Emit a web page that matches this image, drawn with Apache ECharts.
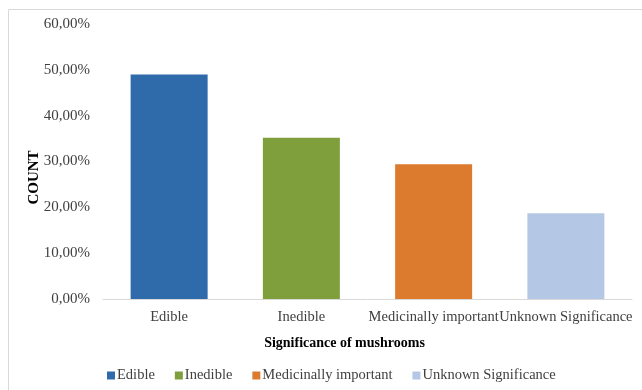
<!DOCTYPE html>
<html>
<head>
    <meta charset="utf-8">
    <title>Significance of mushrooms</title>
    <script src="https://cdn.jsdelivr.net/npm/echarts@6/dist/echarts.min.js"></script>
    <style>
        html, body { margin: 0; padding: 0; background: #fff; }
        #chart { width: 642px; height: 390px; }
    </style>
</head>
<body>
<div id="chart"></div>
<script type="text/javascript">
    // 数据
    var categories = ['Edible', 'Inedible', 'Medicinally important', 'Unknown Significance'];
    var values = [49.0, 35.2, 29.4, 18.7];
    var colors = ['#2f6aab', '#7f9f3c', '#dc7b2e', '#b4c8e6'];
    var yTicks = [0, 10, 20, 30, 40, 50, 60];

    var serif = '"Liberation Serif", "DejaVu Serif", serif';

    // 每个类别一个系列, 这样图例有四项
    var series = categories.map(function (name, i) {
        var d = categories.map(function (c, j) { return j === i ? values[i] : '-'; });
        return {
            name: name,
            type: 'bar',
            stack: 'all',
            barWidth: 77,
            itemStyle: { color: colors[i] },
            data: d
        };
    });

    var myChart = echarts.init(document.getElementById('chart'));
    myChart.setOption({
        animation: false,
        textStyle: { fontFamily: serif },
        graphic: [{
            type: 'rect',
            shape: { x: 8.5, y: 9.5, width: 700, height: 420 },
            style: { fill: 'none', stroke: '#d9d9d9', lineWidth: 1 },
            silent: true
        }],
        grid: { left: 103, right: 10, top: 24, bottom: 91 },
        legend: {
            bottom: 2,
            left: 102,
            itemWidth: 8,
            itemHeight: 8,
            itemGap: 20,
            icon: 'rect',
            textStyle: { fontFamily: serif, fontSize: 14.5, color: '#404040', padding: [0, 0, 0, -3] },
            data: categories
        },
        xAxis: {
            type: 'category',
            data: categories,
            name: 'Significance of mushrooms',
            nameLocation: 'middle',
            nameGap: 37,
            nameMoveOverlap: false,
            nameTextStyle: { fontFamily: serif, fontSize: 14, fontWeight: 'bold', color: '#000', padding: [0, 46, 0, 0] },
            axisLine: { lineStyle: { color: '#d9d9d9', width: 1 } },
            axisTick: { show: false },
            axisLabel: { interval: 0, fontFamily: serif, fontSize: 14.5, color: '#404040', margin: 11 }
        },
        yAxis: {
            type: 'value',
            min: yTicks[0],
            max: yTicks[yTicks.length - 1],
            interval: 10,
            name: 'COUNT',
            nameLocation: 'middle',
            nameGap: 61,
            nameMoveOverlap: false,
            nameTextStyle: { fontFamily: serif, fontSize: 15, fontWeight: 'bold', color: '#000', padding: [0, 32, 0, 0] },
            splitLine: { show: false },
            axisLine: { show: false },
            axisTick: { show: false },
            axisLabel: {
                fontFamily: serif, fontSize: 15, color: '#404040', margin: 13,
                formatter: function (v) { return v.toFixed(2).replace('.', ',') + '%'; }
            }
        },
        series: series
    });
</script>
</body>
</html>
